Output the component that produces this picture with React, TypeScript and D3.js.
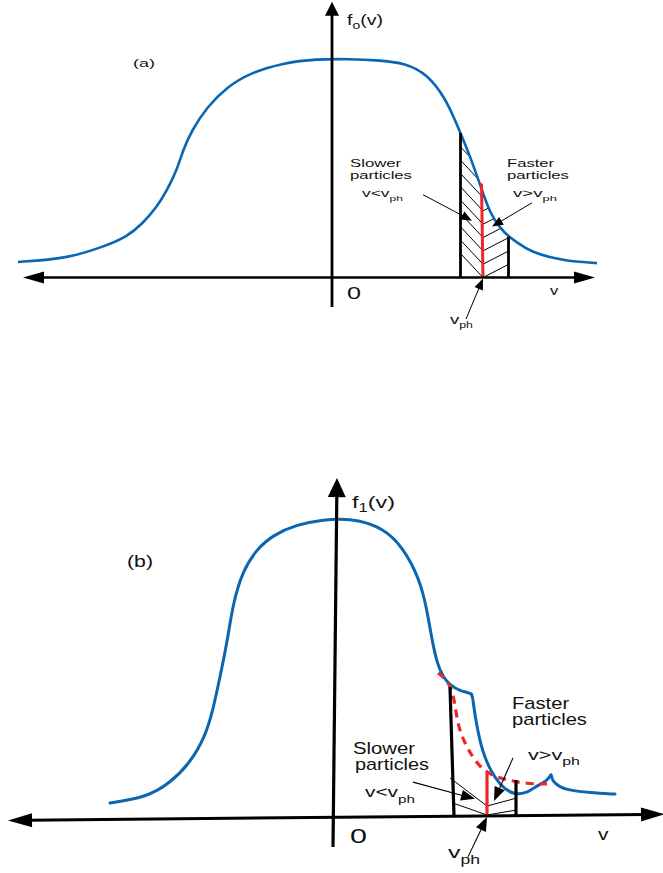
import React, { useRef, useState, useLayoutEffect } from "react";
import * as d3 from "d3";

type P = [number, number];

// ---------- Panel (a) data: v (velocity units), f0(v) (normalised) ----------
const A_CURVE: P[] = [
  [-6.28, 0.071], [-5.98, 0.076], [-5.3, 0.089], [-4.64, 0.135], [-4.1, 0.185],
  [-3.78, 0.249], [-3.5, 0.323], [-3.3, 0.4], [-3.1, 0.492], [-2.98, 0.584],
  [-2.8, 0.675], [-2.5, 0.78], [-2.1, 0.872], [-1.64, 0.936], [-0.98, 0.982],
  [-0.3, 1.0], [0.36, 1.0], [0.88, 0.995], [1.48, 0.982], [1.92, 0.927],
  [2.26, 0.822], [2.46, 0.721], [2.57, 0.661], [2.76, 0.556], [3.0, 0.4],
  [3.16, 0.295], [3.36, 0.227], [3.53, 0.187], [3.7, 0.162], [3.96, 0.117],
  [4.62, 0.076], [5.3, 0.066],
];
const A_SLOW_EDGE: P[] = [[2.57, 0], [2.57, 0.661]];
const A_PHASE: P[] = [[3.02, 0], [2.99, 0.43]];
const A_FAST_EDGE: P[] = [[3.53, 0], [3.53, 0.187]];
const A_HATCH_LEVELS: number[] = [0, 0.061, 0.122, 0.183, 0.244, 0.305, 0.366, 0.427, 0.488, 0.549];
const A_HATCH_LEFT_RISE = 0.11;
const A_HATCH_RIGHT_RISE = 0.06;
const A_ARROWS: [P, P][] = [
  [[1.82, 0.379], [2.8, 0.26]],
  [[4.0, 0.342], [3.2, 0.233]],
  [[2.68, -0.19], [3.02, -0.005]],
];
const A_XAXIS: P[] = [[-6.18, 0], [5.26, 0]];
const A_YAXIS: P[] = [[0, -0.135], [0, 1.262]];

// ---------- Panel (b) data: v, f1(v) ----------
const B_CURVE: P[] = [
  [-4.5, 0.05], [-3.76, 0.07], [-3.3, 0.117], [-2.9, 0.184], [-2.6, 0.271],
  [-2.44, 0.361], [-2.3, 0.472], [-2.16, 0.585], [-2.04, 0.719], [-1.84, 0.829],
  [-1.56, 0.9], [-1.24, 0.946], [-0.76, 0.982], [-0.24, 0.997], [0.1, 1.0],
  [0.44, 0.997], [0.96, 0.97], [1.36, 0.906], [1.7, 0.796], [1.84, 0.696],
  [1.94, 0.595], [2.04, 0.518], [2.16, 0.472], [2.3, 0.445], [2.5, 0.425],
  [2.66, 0.42], [2.73, 0.414],
];
const B_DROP: P[] = [
  [2.73, 0.414], [2.76, 0.398], [2.77, 0.378], [2.84, 0.304], [2.94, 0.227],
  [3.1, 0.161], [3.3, 0.11], [3.56, 0.077], [3.84, 0.084], [3.96, 0.1],
  [4.24, 0.124], [4.32, 0.144],
];
const B_TAIL: P[] = [
  [4.32, 0.144], [4.36, 0.12], [4.5, 0.104], [4.64, 0.094], [5.1, 0.084], [5.6, 0.08],
];
const B_DASHED: P[] = [
  [2.06, 0.485], [2.3, 0.452], [2.4, 0.385], [2.46, 0.304], [2.64, 0.234],
  [2.86, 0.177], [3.1, 0.144], [3.44, 0.127], [3.84, 0.114], [4.24, 0.114],
];
const B_SLOW_EDGE: P[] = [[2.38, 0.007], [2.3, 0.438]];
const B_PHASE: P[] = [[3.04, 0.007], [3.04, 0.15]];
const B_FAST_EDGE: P[] = [[3.62, 0.007], [3.62, 0.127]];
const B_THIN: [P, P][] = [
  [[2.3, 0.134], [3.04, 0.04]],
  [[2.36, 0.05], [3.04, 0.01]],
  [[3.04, 0.04], [3.64, 0.067]],
  [[3.04, 0.01], [3.64, 0.027]],
];
const B_ARROWS: [P, P][] = [
  [[1.56, 0.12], [2.8, 0.064]],
  [[3.56, 0.201], [3.18, 0.057]],
  [[2.66, -0.13], [3.04, 0.003]],
];
const B_XAXIS: P[] = [[-6.54, -0.008], [6.6, 0.0127]];
const B_YAXIS: P[] = [[-0.04, -0.097], [0.04, 1.137]];

// ---------- styling ----------
const BLUE = "#0a66b0";
const RED = "#ee262c";
const FONT = "'Liberation Sans', Arial, sans-serif";

const xA = d3.scaleLinear().domain([0, 1]).range([332, 382]);
const yA = d3.scaleLinear().domain([0, 1]).range([277.5, 59]);
const xB = d3.scaleLinear().domain([0, 1]).range([335, 385]);
const yB = d3.scaleLinear().domain([0, 1]).range([818, 519]);

function StretchText({ x, y, w, size, children }: { x: number; y: number; w: number; size: number; children: React.ReactNode }) {
  const ref = useRef<SVGTextElement>(null);
  const [s, setS] = useState(1);
  useLayoutEffect(() => {
    if (ref.current) {
      const bw = ref.current.getBBox().width;
      if (bw > 0) setS(w / bw);
    }
  }, [w]);
  return (
    <g transform={`translate(${x},${y}) scale(${s},1)`}>
      <text ref={ref} x={0} y={0} fontSize={size} fontFamily={FONT} fill="#111">
        {children}
      </text>
    </g>
  );
}

function Arrow({ p1, p2, len, half, width, both = false }: { p1: P; p2: P; len: number; half: number; width: number; both?: boolean }) {
  const [x1, y1] = p1;
  const [x2, y2] = p2;
  const L = Math.hypot(x2 - x1, y2 - y1);
  const ux = (x2 - x1) / L, uy = (y2 - y1) / L;
  const nx = -uy, ny = ux;
  const head = (tx: number, ty: number, dx: number, dy: number) => {
    const bx = tx - dx * len, by = ty - dy * len;
    return `M${tx},${ty}L${bx + nx * half},${by + ny * half}L${bx - nx * half},${by - ny * half}Z`;
  };
  const sx = both ? x1 + ux * len * 0.8 : x1;
  const sy = both ? y1 + uy * len * 0.8 : y1;
  return (
    <g>
      <line x1={sx} y1={sy} x2={x2 - ux * len * 0.8} y2={y2 - uy * len * 0.8} stroke="#000" strokeWidth={width} />
      <path d={head(x2, y2, ux, uy)} fill="#000" />
      {both && <path d={head(x1, y1, -ux, -uy)} fill="#000" />}
    </g>
  );
}

export default function App() {
  const lineA = d3.line<P>().x((d) => xA(d[0])).y((d) => yA(d[1])).curve(d3.curveBasis);
  const areaA = d3.area<P>().x((d) => xA(d[0])).y0(yA(0)).y1((d) => yA(d[1])).curve(d3.curveBasis);
  const lineB = d3.line<P>().x((d) => xB(d[0])).y((d) => yB(d[1])).curve(d3.curveBasis);

  const pA = (d: P): P => [xA(d[0]), yA(d[1])];
  const pB = (d: P): P => [xB(d[0]), yB(d[1])];

  const redV = A_PHASE[0][0];
  const slowV = A_SLOW_EDGE[0][0];
  const fastV = A_FAST_EDGE[0][0];

  return (
    <svg width={663} height={873} style={{ position: "absolute", left: 0, top: 0, background: "#fff" }}>
      <defs>
        <clipPath id="underA">
          <path d={areaA(A_CURVE) || ""} />
        </clipPath>
      </defs>

      {/* ================= Panel (a) ================= */}
      <g clipPath="url(#underA)">
        {A_HATCH_LEVELS.map((f, i) => (
          <line key={"l" + i} x1={xA(slowV)} y1={yA(f + A_HATCH_LEFT_RISE)} x2={xA(redV)} y2={yA(f)} stroke="#000" strokeWidth={1} />
        ))}
        {A_HATCH_LEVELS.map((f, i) => (
          <line key={"r" + i} x1={xA(redV)} y1={yA(f)} x2={xA(fastV)} y2={yA(f + A_HATCH_RIGHT_RISE)} stroke="#000" strokeWidth={1} />
        ))}
      </g>
      <path d={lineA(A_CURVE) || ""} fill="none" stroke={BLUE} strokeWidth={2.6} />
      <line x1={xA(A_SLOW_EDGE[0][0])} y1={yA(A_SLOW_EDGE[0][1])} x2={xA(A_SLOW_EDGE[1][0])} y2={yA(A_SLOW_EDGE[1][1])} stroke="#000" strokeWidth={2.8} />
      <line x1={xA(A_FAST_EDGE[0][0])} y1={yA(A_FAST_EDGE[0][1])} x2={xA(A_FAST_EDGE[1][0])} y2={yA(A_FAST_EDGE[1][1])} stroke="#000" strokeWidth={2.8} />
      <line x1={xA(A_PHASE[0][0])} y1={yA(A_PHASE[0][1])} x2={xA(A_PHASE[1][0])} y2={yA(A_PHASE[1][1])} stroke={RED} strokeWidth={3} />
      <Arrow p1={pA(A_XAXIS[0])} p2={pA(A_XAXIS[1])} len={21} half={6} width={2.6} both />
      <Arrow p1={pA(A_YAXIS[0])} p2={pA(A_YAXIS[1])} len={14} half={7} width={2.8} />
      {A_ARROWS.map((a, i) => (
        <Arrow key={i} p1={pA(a[0])} p2={pA(a[1])} len={11} half={4.5} width={1} />
      ))}

      <StretchText x={133} y={67} w={22} size={11}>(a)</StretchText>
      <StretchText x={347} y={25} w={36} size={14}>
        <tspan>f</tspan>
        <tspan fontSize={10} dy={4}>o</tspan>
        <tspan dy={-4}>(v)</tspan>
      </StretchText>
      <StretchText x={347} y={299} w={14} size={16.5}>0</StretchText>
      <StretchText x={550} y={295} w={8.5} size={13.5}>v</StretchText>
      <StretchText x={350} y={166.5} w={52} size={10.5}>Slower</StretchText>
      <StretchText x={350} y={178.5} w={62} size={10.5}>particles</StretchText>
      <StretchText x={362} y={197} w={41} size={11.5}>
        <tspan>{"v<v"}</tspan>
        <tspan fontSize={8} dy={4}>ph</tspan>
      </StretchText>
      <StretchText x={507} y={166.5} w={48} size={10.5}>Faster</StretchText>
      <StretchText x={507} y={178.5} w={62} size={10.5}>particles</StretchText>
      <StretchText x={513} y={197} w={44} size={11.5}>
        <tspan>{"v>v"}</tspan>
        <tspan fontSize={8} dy={4}>ph</tspan>
      </StretchText>
      <StretchText x={450} y={324} w={23} size={13.5}>
        <tspan>v</tspan>
        <tspan fontSize={9} dy={4}>ph</tspan>
      </StretchText>

      {/* ================= Panel (b) ================= */}
      <path d={lineB(B_CURVE) || ""} fill="none" stroke={BLUE} strokeWidth={3} strokeLinecap="round" />
      <path d={lineB(B_DROP) || ""} fill="none" stroke={BLUE} strokeWidth={3} strokeLinecap="round" />
      <path d={lineB(B_TAIL) || ""} fill="none" stroke={BLUE} strokeWidth={3} strokeLinecap="round" />
      <path d={lineB(B_DASHED) || ""} fill="none" stroke={RED} strokeWidth={3.2} strokeDasharray="8,6" />
      {B_THIN.map((t, i) => (
        <line key={i} x1={xB(t[0][0])} y1={yB(t[0][1])} x2={xB(t[1][0])} y2={yB(t[1][1])} stroke="#000" strokeWidth={1} />
      ))}
      <line x1={xB(B_SLOW_EDGE[0][0])} y1={yB(B_SLOW_EDGE[0][1])} x2={xB(B_SLOW_EDGE[1][0])} y2={yB(B_SLOW_EDGE[1][1])} stroke="#000" strokeWidth={3.2} />
      <line x1={xB(B_FAST_EDGE[0][0])} y1={yB(B_FAST_EDGE[0][1])} x2={xB(B_FAST_EDGE[1][0])} y2={yB(B_FAST_EDGE[1][1])} stroke="#000" strokeWidth={3.2} />
      <line x1={xB(B_PHASE[0][0])} y1={yB(B_PHASE[0][1])} x2={xB(B_PHASE[1][0])} y2={yB(B_PHASE[1][1])} stroke={RED} strokeWidth={3.2} />
      <Arrow p1={pB(B_XAXIS[0])} p2={pB(B_XAXIS[1])} len={24} half={7} width={3} both />
      <Arrow p1={pB(B_YAXIS[0])} p2={pB(B_YAXIS[1])} len={19} half={9} width={3.2} />
      {B_ARROWS.map((a, i) => (
        <Arrow key={i} p1={pB(a[0])} p2={pB(a[1])} len={14} half={5.5} width={1.1} />
      ))}

      <StretchText x={127} y={567} w={26} size={16}>(b)</StretchText>
      <StretchText x={352} y={508} w={43} size={17}>
        <tspan>f</tspan>
        <tspan fontSize={12} dy={4}>1</tspan>
        <tspan dy={-4}>(v)</tspan>
      </StretchText>
      <StretchText x={350} y={843} w={17} size={21}>0</StretchText>
      <StretchText x={598} y={840} w={11} size={17}>v</StretchText>
      <StretchText x={353} y={754} w={63} size={16}>Slower</StretchText>
      <StretchText x={355} y={770} w={74} size={16}>particles</StretchText>
      <StretchText x={365} y={797} w={50} size={15}>
        <tspan>{"v<v"}</tspan>
        <tspan fontSize={11} dy={6}>ph</tspan>
      </StretchText>
      <StretchText x={512} y={709} w={58} size={16}>Faster</StretchText>
      <StretchText x={512} y={725} w={75} size={16}>particles</StretchText>
      <StretchText x={528} y={760} w={52} size={15}>
        <tspan>{"v>v"}</tspan>
        <tspan fontSize={11} dy={5}>ph</tspan>
      </StretchText>
      <StretchText x={448} y={858} w={32} size={17}>
        <tspan>v</tspan>
        <tspan fontSize={12} dy={6}>ph</tspan>
      </StretchText>
    </svg>
  );
}
